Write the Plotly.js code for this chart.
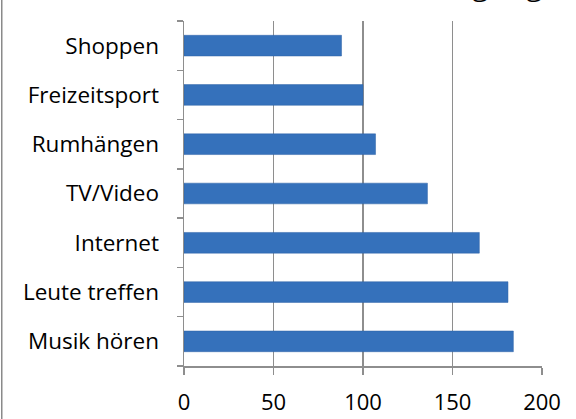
<!DOCTYPE html>
<html>
<head>
<meta charset="utf-8">
<script src="https://cdn.plot.ly/plotly-3.0.1.min.js"></script>
<style>html,body{margin:0;padding:0;background:#fff;}#chart{width:576px;height:419px;}</style>
</head>
<body>
<div id="chart"></div>
<script>
// Data (bottom to top)
const categories = ["Musik hören", "Leute treffen", "Internet", "TV/Video", "Rumhängen", "Freizeitsport", "Shoppen"];
const values = [184, 181, 165, 136, 107, 100, 88];
const xTickVals = [0, 50, 100, 150, 200];
const titleText = "Freizeitbeschäftigungen";

const W = 576, H = 419;
const L = 184, R = 33.5, T = 21, B = 53.3;
const pw = W - L - R, ph = H - T - B;
const px = (p) => (p - L) / pw;
const py = (p) => 1 - (p - T) / ph;

const gridCol = "#8e8e8e";
const fontFam = "'Open Sans', Lato, sans-serif";

const traces = [
  {
    type: "bar",
    orientation: "h",
    y: categories,
    x: values,
    marker: { color: "#3571bb", line: { color: "#2e62a6", width: 0.5 } },
    hoverinfo: "skip"
  }
];

const layout = {
  width: W, height: H,
  margin: { l: L, r: R, t: T, b: B, pad: 0 },
  paper_bgcolor: "#fff",
  plot_bgcolor: "#fff",
  showlegend: false,
  bargap: 0.58,
  font: { family: fontFam, size: 22, color: "#000" },
  xaxis: {
    range: [0, 200],
    tickvals: xTickVals,
    ticktext: xTickVals.map(String),
    showgrid: true, gridcolor: gridCol, gridwidth: 1.5,
    zeroline: false,
    showline: true, linecolor: gridCol, linewidth: 1.5,
    ticks: "outside", ticklen: 7, tickcolor: gridCol, tickwidth: 1.5,
    tickfont: { family: fontFam, size: 22, color: "#000" },
    ticklabelstandoff: 9,
    fixedrange: true
  },
  yaxis: {
    type: "category",
    categoryorder: "array",
    categoryarray: categories,
    tickson: "boundaries",
    showgrid: false,
    zeroline: false,
    showline: true, linecolor: gridCol, linewidth: 1.5,
    ticks: "outside", ticklen: 6, tickcolor: gridCol, tickwidth: 1.5,
    tickfont: { family: fontFam, size: 22.5, color: "#000" },
    ticklabelstandoff: 19,
    fixedrange: true
  },
  shapes: [
    { type: "line", xref: "paper", yref: "paper",
      x0: px(1.5), x1: px(1.5), y0: py(0), y1: py(H),
      line: { color: "#8a8a8a", width: 1.5 } }
  ],
  annotations: [
    { xref: "paper", yref: "paper", x: px(580), y: py(4.5), xanchor: "right", yanchor: "bottom",
      text: titleText, showarrow: false,
      font: { family: "'Liberation Serif', serif", size: 36, color: "#000" } }
  ]
};

Plotly.newPlot("chart", traces, layout, { displayModeBar: false, staticPlot: true });
</script>
</body>
</html>
